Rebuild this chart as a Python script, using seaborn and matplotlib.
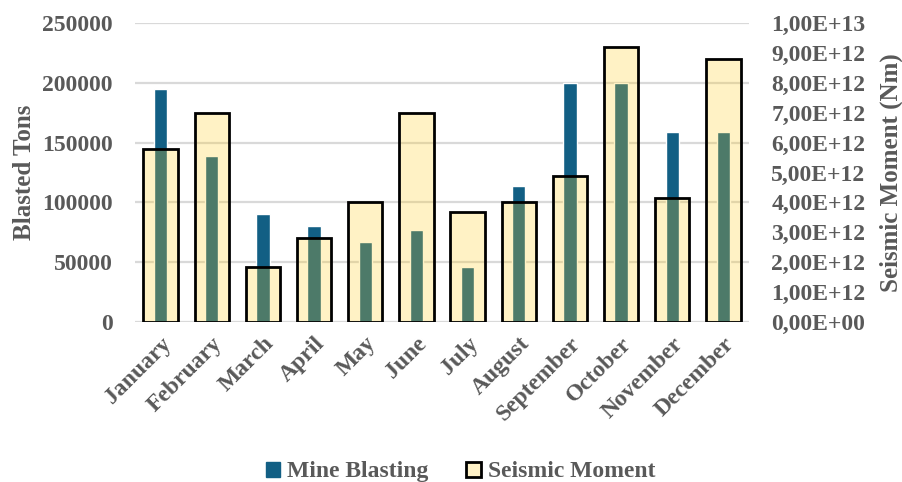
import matplotlib
matplotlib.use("Agg")
import matplotlib.pyplot as plt
from matplotlib.ticker import FuncFormatter, MultipleLocator
from matplotlib.patches import Patch
from matplotlib.font_manager import FontProperties
import seaborn as sns

months = ["January", "February", "March", "April", "May", "June", "July",
          "August", "September", "October", "November", "December"]
blasted_tons = [195000, 139000, 90000, 80000, 67000, 77000, 46000,
                114000, 200000, 200000, 159000, 159000]
seismic_moment = [5.8e12, 7.0e12, 1.84e12, 2.8e12, 4.0e12, 7.0e12, 3.68e12,
                  4.0e12, 4.9e12, 9.2e12, 4.15e12, 8.8e12]

BLUE = "#125f84"
YELLOW_FILL = (1.0, 0.80, 0.10, 0.25)
TEXT = "#595959"
GRID = "#d9d9d9"

sns.set_theme(style="white")
plt.rcParams["font.family"] = ["Liberation Serif", "DejaVu Serif"]
plt.rcParams["font.weight"] = "bold"

fig = plt.figure(figsize=(9.03, 4.82), dpi=100)
ax1 = fig.add_axes([0.1495, 0.332, 0.68, 0.620])
ax2 = ax1.twinx()

# Mine blasting on the left axis
sns.barplot(x=months, y=blasted_tons, ax=ax1, color=BLUE, saturation=1,
            width=0.26, zorder=2)
# Seismic moment on the right axis, translucent with black outline
sns.barplot(x=months, y=seismic_moment, ax=ax2, color="#ffcc1a", saturation=1,
            width=0.67, zorder=2)
for p in ax2.patches:
    p.set_facecolor(YELLOW_FILL)
    p.set_edgecolor("black")
    p.set_linewidth(2.0)

ax1.set_ylim(0, 250000)
ax2.set_ylim(0, 1e13)
ax1.set_xlim(-0.5, 11.5)
ax1.yaxis.set_major_locator(MultipleLocator(50000))
ax2.yaxis.set_major_locator(MultipleLocator(1e12))
ax2.yaxis.set_major_formatter(FuncFormatter(lambda v, _: f"{v:.2E}".replace(".", ",")))

ax1.grid(axis="y", color=GRID, linewidth=1.6, zorder=0)
ax1.set_axisbelow(True)
ax2.grid(False)
for ax in (ax1, ax2):
    for s in ax.spines.values():
        s.set_visible(False)
    ax.tick_params(length=0)

ax1.tick_params(axis="y", labelsize=17, labelcolor=TEXT, pad=16)
ax2.tick_params(axis="y", labelsize=17, labelcolor=TEXT, pad=16)
ax1.tick_params(axis="x", labelsize=17, labelcolor=TEXT, pad=8)
for lab in ax1.get_xticklabels():
    lab.set_rotation(45)
    lab.set_ha("right")
    lab.set_va("top")
    lab.set_rotation_mode("anchor")
    lab.set_fontweight("bold")
for lab in ax1.get_yticklabels() + ax2.get_yticklabels():
    lab.set_fontweight("bold")

ax1.set_xlabel("")
ax1.set_ylabel("Blasted Tons", fontsize=18, color=TEXT, fontweight="bold", labelpad=4)
ax2.set_ylabel("Seismic Moment (Nm)", fontsize=18, color=TEXT, fontweight="bold",
               labelpad=10, rotation=90)

legend_font = FontProperties(family="Liberation Serif", weight="bold", size=17)
handles = [Patch(facecolor=BLUE, edgecolor=BLUE),
           Patch(facecolor=(1.0, 0.95, 0.78), edgecolor="black", linewidth=2)]
leg = fig.legend(handles, ["Mine Blasting", "Seismic Moment"], loc="lower center",
                 bbox_to_anchor=(0.51, -0.045), ncol=2, frameon=False,
                 prop=legend_font, handlelength=0.6, handleheight=0.6,
                 handletextpad=0.3, columnspacing=1.6)
for t in leg.get_texts():
    t.set_color(TEXT)

fig.savefig("out.png", dpi=100)
